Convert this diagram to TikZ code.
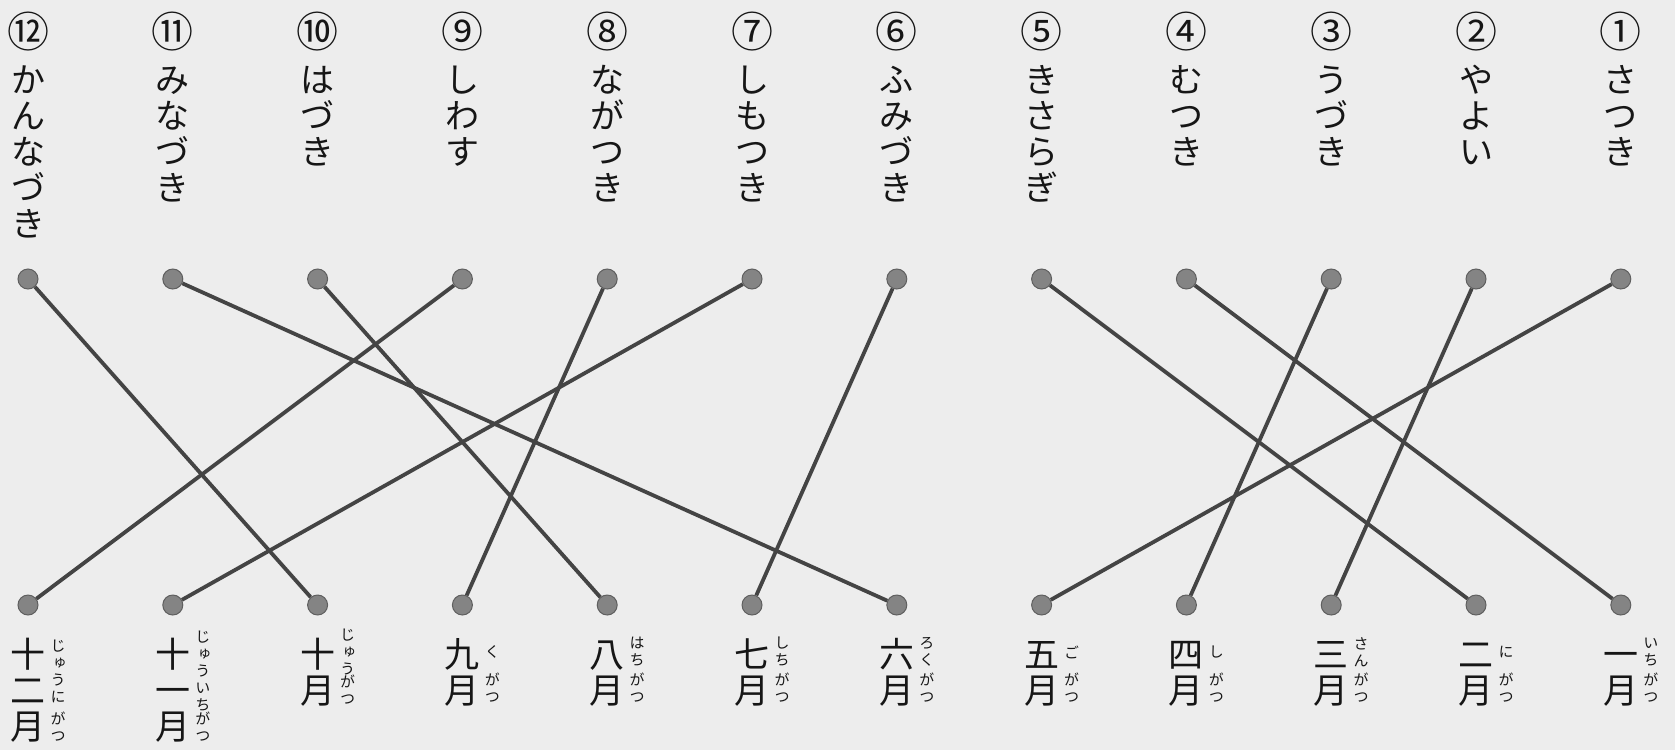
\documentclass[tikz,border=0pt]{standalone}
\usepackage{fontspec}
\newfontfamily\jp{Noto Sans CJK JP}
\newfontfamily\jpv[RawFeature=+vert]{Noto Sans CJK JP}
\definecolor{paper}{RGB}{237,237,237}
\definecolor{linegray}{RGB}{68,68,68}
\definecolor{dotgray}{RGB}{132,132,132}
\definecolor{dotedge}{RGB}{95,95,95}
\definecolor{inkc}{RGB}{22,22,22}
\begin{document}
\begin{tikzpicture}[x=1pt,y=-1pt,
  numtxt/.style={inner sep=0pt, text=inkc, font=\jp\fontsize{42}{42}\selectfont},
  vtext/.style={inner sep=0pt, align=center, anchor=north, text=inkc, font=\jp\fontsize{34}{36}\selectfont},
  kanji/.style={inner sep=0pt, align=center, anchor=north, text=inkc, font=\jp\fontsize{35}{36}\selectfont},
  ruby/.style={inner sep=0pt, align=center, text=inkc, font=\jpv\fontsize{15}{17}\selectfont},
  dot/.style={circle, fill=dotgray, draw=dotedge, line width=1pt, minimum size=20pt, inner sep=0pt},
  link/.style={draw=linegray, line width=3.8pt}]
\fill[paper] (0,0) rectangle (1675,750);
\useasboundingbox (0,0) rectangle (1675,750);
% top row
\foreach \i/\c/\w in {0/⑫/{か\\ん\\な\\づ\\き}, 1/⑪/{み\\な\\づ\\き}, 2/⑩/{は\\づ\\き}, 3/⑨/{し\\わ\\す}, 4/⑧/{な\\が\\つ\\き}, 5/⑦/{し\\も\\つ\\き}, 6/⑥/{ふ\\み\\づ\\き}, 7/⑤/{き\\さ\\ら\\ぎ}, 8/④/{む\\つ\\き}, 9/③/{う\\づ\\き}, 10/②/{や\\よ\\い}, 11/①/{さ\\つ\\き}}{
  \node[numtxt] (n\i) at ({28+144.8*\i},32) {\c};
  \node[vtext] (w\i) at ({28+144.8*\i},65) {\vphantom{か}\w};
  \node[dot] (t\i) at ({28+144.8*\i},279) {};
}
% bottom row
\foreach \i/\k/\ra/\ya/\yb in {0/{十\\二\\月}/{じ\\ゅ\\う\\に}/671/727, 1/{十\\一\\月}/{じ\\ゅ\\う\\い\\ち}/671/727, 2/{十\\月}/{じ\\ゅ\\う}/652/690, 3/{九\\月}/{く}/652/688, 4/{八\\月}/{は\\ち}/652/688, 5/{七\\月}/{し\\ち}/652/688, 6/{六\\月}/{ろ\\く}/652/688, 7/{五\\月}/{ご}/652/688, 8/{四\\月}/{し}/652/688, 9/{三\\月}/{さ\\ん}/652/688, 10/{二\\月}/{に}/652/688, 11/{一\\月}/{い\\ち}/652/688}{
  \node[kanji] (k\i) at ({28+144.8*\i},638) {\vphantom{十}\k};
  \node[ruby] (r\i) at ({58+144.8*\i},\ya) {\ra};
  \node[ruby] (g\i) at ({58+144.8*\i},\yb) {が\\つ};
  \node[dot] (b\i) at ({28+144.8*\i},605) {};
}
% connectors
\foreach \a/\b in {0/2, 1/6, 2/4, 3/0, 4/3, 5/1, 6/5, 7/10, 8/11, 9/8, 10/9, 11/7}{
  \draw[link] (t\a) -- (b\b);
}
\end{tikzpicture}
\end{document}
